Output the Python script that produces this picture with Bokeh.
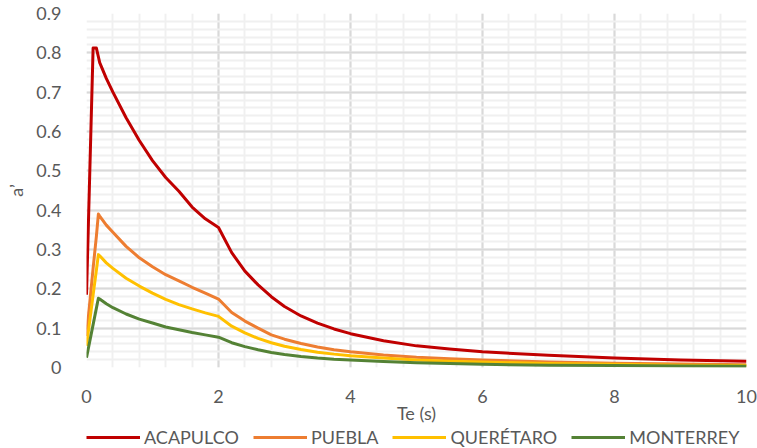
from bokeh.plotting import figure
from bokeh.layouts import column
from bokeh.models import Range1d, FixedTicker, Legend, LegendItem
from bokeh.embed import file_html
from bokeh.resources import INLINE

# Period Te (s)
T = [0, 0.1, 0.15, 0.18, 0.2, 0.3, 0.4, 0.6, 0.8, 1.0, 1.2, 1.4, 1.6, 1.8, 2.0,
     2.2, 2.4, 2.6, 2.8, 3.0, 3.25, 3.5, 3.75, 4.0, 4.5, 5.0, 5.5, 6.0, 7.0, 8.0, 9.0, 10.0]

acapulco = [0.185, 0.812, 0.812, 0.79, 0.775, 0.735, 0.700, 0.635, 0.577, 0.526, 0.483, 0.448,
            0.408, 0.378, 0.356, 0.292, 0.245, 0.210, 0.180, 0.155, 0.131, 0.113, 0.098, 0.086,
            0.068, 0.055, 0.047, 0.040, 0.031, 0.024, 0.019, 0.016]
puebla = [0.08, 0.252, 0.334, 0.390, 0.385, 0.362, 0.344, 0.308, 0.279, 0.256, 0.236, 0.220,
          0.204, 0.189, 0.174, 0.140, 0.118, 0.100, 0.083, 0.072, 0.061, 0.052, 0.045, 0.040,
          0.032, 0.026, 0.022, 0.019, 0.014, 0.011, 0.009, 0.007]
queretaro = [0.055, 0.184, 0.248, 0.287, 0.284, 0.266, 0.252, 0.227, 0.207, 0.189, 0.173, 0.160,
             0.149, 0.139, 0.130, 0.105, 0.088, 0.074, 0.063, 0.054, 0.046, 0.039, 0.034, 0.030,
             0.024, 0.019, 0.016, 0.014, 0.010, 0.008, 0.006, 0.005]
monterrey = [0.025, 0.109, 0.151, 0.176, 0.174, 0.162, 0.152, 0.136, 0.123, 0.113, 0.103, 0.096,
             0.089, 0.083, 0.077, 0.063, 0.053, 0.045, 0.038, 0.033, 0.028, 0.024, 0.021, 0.019,
             0.015, 0.012, 0.010, 0.008, 0.006, 0.005, 0.004, 0.003]

series_names = ["ACAPULCO", "PUEBLA", "QUERÉTARO", "MONTERREY"]
series_values = [acapulco, puebla, queretaro, monterrey]
series_colors = ["#c00000", "#ed7d31", "#ffc000", "#548235"]

x_ticks = [0, 2, 4, 6, 8, 10]
x_labels = ["0", "2", "4", "6", "8", "10"]
y_ticks = [0, 0.1, 0.2, 0.3, 0.4, 0.5, 0.6, 0.7, 0.8, 0.9]
y_labels = ["0", "0.1", "0.2", "0.3", "0.4", "0.5", "0.6", "0.7", "0.8", "0.9"]
x_minor = [round(0.4 * i, 2) for i in range(26)]
y_minor = [round(0.02 * i, 2) for i in range(46)]

FONT = "Lato"
TXT = "#595959"

p = figure(width=757, height=426, output_backend="svg", toolbar_location=None,
           x_range=Range1d(0, 10), y_range=Range1d(0, 0.9),
           min_border_left=86, min_border_right=11, min_border_top=13, min_border_bottom=56)
p.outline_line_color = None
p.background_fill_color = "white"
p.border_fill_color = "white"

p.xaxis.ticker = FixedTicker(ticks=x_ticks, minor_ticks=x_minor)
p.yaxis.ticker = FixedTicker(ticks=y_ticks, minor_ticks=y_minor)
p.xaxis.major_label_overrides = dict(zip(x_ticks, x_labels))
p.yaxis.major_label_overrides = dict(zip(y_ticks, y_labels))

for g in (p.xgrid, p.ygrid):
    g.grid_line_color = "#d9d9d9"
    g.grid_line_width = 2
    g.minor_grid_line_color = "#f0f0f0"
    g.minor_grid_line_width = 2

for ax in (p.xaxis, p.yaxis):
    ax.axis_line_color = None
    ax.major_tick_line_color = None
    ax.minor_tick_line_color = None
    ax.major_label_text_color = TXT
    ax.major_label_text_font = FONT
    ax.major_label_text_font_size = "18px"
    ax.axis_label_text_color = TXT
    ax.axis_label_text_font = FONT
    ax.axis_label_text_font_size = "18px"
    ax.axis_label_text_font_style = "normal"

p.xaxis.axis_label = "Te (s)"
p.xaxis.major_label_standoff = 16
p.xaxis.axis_label_standoff = -4
p.yaxis.axis_label = "a’"
p.yaxis.major_label_standoff = 19
p.yaxis.axis_label_standoff = 6

for name, vals, col in zip(series_names, series_values, series_colors):
    p.line(T, vals, line_color=col, line_width=3, line_join="round")

# Legend strip below the chart (its lines sit outside the visible y range)
pl = figure(width=757, height=22, output_backend="svg", toolbar_location=None,
            x_range=Range1d(0, 10), y_range=Range1d(5, 6),
            min_border_left=86, min_border_right=11, min_border_top=0, min_border_bottom=0)
pl.axis.visible = False
pl.grid.visible = False
pl.outline_line_color = None
pl.background_fill_color = "white"
pl.border_fill_color = "white"

items = []
for name, vals, col in zip(series_names, series_values, series_colors):
    r = pl.line(T, vals, line_color=col, line_width=3)
    items.append(LegendItem(label=name, renderers=[r]))

legend = Legend(items=items, orientation="horizontal", location="left", margin=0,
                glyph_width=54, glyph_height=18, label_standoff=4, spacing=14,
                padding=0, border_line_color=None, background_fill_alpha=0,
                label_text_color=TXT, label_text_font=FONT, label_text_font_size="18px")
pl.add_layout(legend, "center")

layout = column(p, pl, spacing=0)
open("out.html", "w").write(file_html(layout, INLINE))
